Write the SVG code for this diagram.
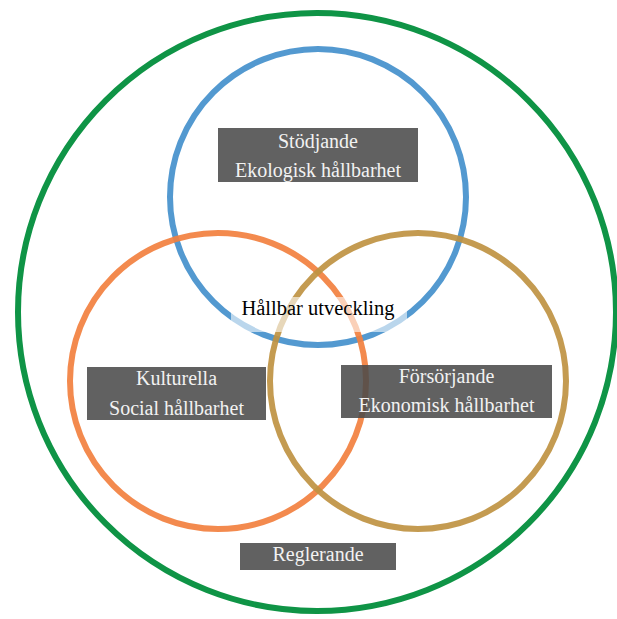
<svg xmlns="http://www.w3.org/2000/svg" width="617" height="619" viewBox="0 0 617 619">
<style>
.ring{fill:none;stroke-width:6}
.box{fill:#4a4a4a;fill-opacity:0.87}
.lbl{font-family:"Liberation Serif","Times New Roman",serif;font-size:20px;fill:#f2f2f2;text-anchor:middle}
.mid{font-family:"Liberation Serif","Times New Roman",serif;font-size:20.5px;fill:#000;text-anchor:middle}
</style>
<rect width="617" height="619" fill="#fff"/>
<g id="connectors"></g>
<g id="outer"><circle class="ring" cx="317" cy="312" r="299" stroke="#0f9446"/></g>
<g id="ekologisk-ring"><circle class="ring" cx="318" cy="197" r="148" stroke="#4a93cd" stroke-opacity="0.95"/></g>
<g id="social-ring"><circle class="ring" cx="218" cy="381" r="148" stroke="#f2803f" stroke-opacity="0.92"/></g>
<g id="ekonomisk-ring"><circle class="ring" cx="418" cy="381" r="148" stroke="#bf9242" stroke-opacity="0.92"/></g>
<g id="center">
<rect x="231" y="297" width="176" height="35" fill="#fff" fill-opacity="0.6"/>
<text class="mid" x="318" y="315">Hållbar utveckling</text>
</g>
<g id="ekologisk">
<rect class="box" x="218" y="128" width="200" height="54"/>
<text class="lbl" x="318" y="148">Stödjande</text>
<text class="lbl" x="318" y="177">Ekologisk hållbarhet</text>
</g>
<g id="social">
<rect class="box" x="87" y="367" width="179" height="53"/>
<text class="lbl" x="176.5" y="385">Kulturella</text>
<text class="lbl" x="176.5" y="415">Social hållbarhet</text>
</g>
<g id="ekonomisk">
<rect class="box" x="341" y="365" width="211" height="53"/>
<text class="lbl" x="446.5" y="383">Försörjande</text>
<text class="lbl" x="446.5" y="412">Ekonomisk hållbarhet</text>
</g>
<g id="reglerande">
<rect class="box" x="240" y="543" width="156" height="27"/>
<text class="lbl" x="318" y="561">Reglerande</text>
</g>
</svg>
